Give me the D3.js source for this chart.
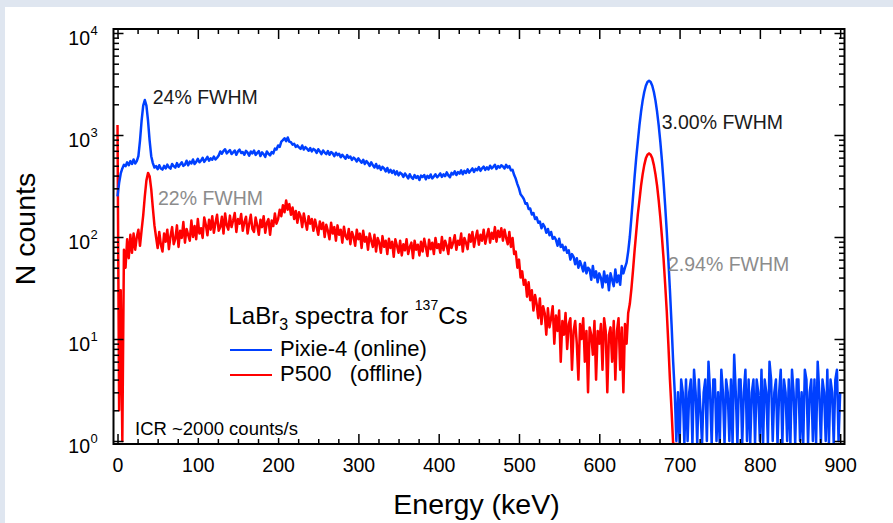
<!DOCTYPE html>
<html>
<head>
<meta charset="utf-8">
<script src="https://cdn.jsdelivr.net/npm/d3@7"></script>
<style>
  html, body { margin: 0; padding: 0; background: #dfe6f0; }
  svg { display: block; }
  text { font-family: "Liberation Sans", Arial, Helvetica, sans-serif; }
</style>
</head>
<body>
<svg id="chart" width="893" height="523"></svg>
<script>
// ---------- data ----------
// energy grid: one value every 2 keV, 0 .. 900 keV
const energyStep = 2;
const energyMax = 900;

// Pixie-4 (online) counts per 2 keV bin, starting at 0 keV
const pixieCounts = [
  250, 340, 420, 470, 510, 495, 540, 505, 555, 520,
  575, 525, 555, 620, 880, 1380, 1940, 2200, 1940, 1380,
  880, 620, 530, 480, 495, 462, 505, 470, 458, 498,
  470, 512, 482, 468, 520, 495, 478, 530, 488, 515,
  540, 498, 512, 560, 505, 548, 525, 575, 520, 545,
  585, 540, 560, 598, 545, 575, 610, 560, 590, 572,
  615, 575, 598, 630, 690, 655, 700, 725, 660, 688,
  712, 650, 675, 705, 640, 690, 718, 665, 680, 640,
  700, 672, 628, 690, 660, 705, 638, 668, 695, 622,
  675, 648, 610, 690, 655, 632, 680, 660, 735, 720,
  790, 765, 860, 890, 930, 870, 945, 860, 850, 805,
  820, 765, 790, 755, 730, 790, 720, 760, 735, 700,
  745, 690, 730, 712, 668, 725, 690, 650, 705, 672,
  650, 695, 640, 680, 662, 620, 670, 635, 655, 605,
  640, 612, 585, 635, 598, 615, 570, 600, 582, 550,
  590, 560, 535, 572, 520, 555, 530, 498, 540, 505,
  480, 520, 472, 498, 455, 488, 470, 440, 475, 430,
  455, 425, 448, 410, 440, 402, 428, 415, 388, 420,
  398, 375, 412, 385, 372, 405, 380, 395, 362, 400,
  388, 405, 368, 398, 380, 410, 375, 392, 412, 385,
  400, 420, 388, 412, 395, 430, 402, 385, 425, 410,
  440, 405, 432, 418, 450, 412, 445, 425, 460, 428,
  448, 470, 435, 465, 452, 485, 445, 472, 490, 455,
  482, 460, 500, 470, 488, 510, 465, 495, 478, 505,
  492, 470, 510, 480, 495, 450, 455, 405, 372, 330,
  300, 262, 250, 236, 212, 214, 188, 190, 166, 172,
  150, 156, 138, 142, 122, 134, 126, 110, 120, 104,
  112, 96, 100, 94, 82, 96, 80, 84, 74, 80,
  70, 74, 60, 68, 64, 54, 62, 50, 58, 52,
  46, 56, 44, 50, 48, 38, 52, 40, 46, 36,
  44, 40, 32, 46, 36, 42, 30, 44, 38, 33,
  48, 36, 42, 34, 52, 44, 50, 56, 72, 100,
  155, 246, 392, 596, 862, 1241, 1689, 2173, 2643, 3040,
  3305, 3400, 3305, 3040, 2643, 2173, 1689, 1241, 862, 566,
  352, 206, 115, 60, 30, 14, 6, 3, 1, 3,
  0, 4, 3, 0, 4, 1, 3, 4, 0, 5,
  3, 0, 4, 2, 0, 3, 4, 1, 6, 3,
  0, 4, 4, 1, 3, 0, 5, 3, 0, 4,
  3, 1, 4, 0, 7, 3, 0, 4, 4, 0,
  3, 5, 1, 4, 0, 3, 4, 0, 4, 3,
  1, 5, 0, 4, 3, 0, 6, 4, 1, 3,
  4, 0, 3, 5, 0, 4, 3, 1, 4, 0,
  5, 3, 0, 4, 4, 1, 3, 0, 5, 4,
  0, 3, 4, 1, 4, 0, 6, 3, 0, 4,
  3, 1, 5, 0, 4, 3, 0, 4, 5, 1,
  3
];

// P500 (offline) counts per 2 keV bin, starting at 0 keV (zero above ~692 keV)
const p500Counts = [
  1250, 2, 30, 1, 75, 50, 95, 62, 105, 70,
  108, 75, 100, 118, 82, 117, 163, 251, 359, 425,
  394, 295, 193, 130, 100, 78, 112, 84, 72, 108,
  90, 118, 76, 102, 125, 85, 96, 130, 80, 115,
  98, 140, 88, 120, 105, 92, 145, 100, 128, 95,
  150, 108, 122, 98, 155, 132, 104, 148, 118, 160,
  110, 138, 165, 115, 125, 158, 108, 170, 130, 118,
  162, 125, 145, 172, 112, 150, 135, 168, 115, 140,
  158, 108, 135, 165, 120, 112, 155, 130, 105, 148,
  125, 160, 110, 138, 150, 105, 145, 128, 170, 135,
  150, 185, 160, 205, 175, 228, 185, 210, 165, 195,
  150, 180, 138, 175, 160, 125, 170, 140, 118, 160,
  135, 150, 115, 148, 125, 105, 142, 120, 138, 100,
  132, 115, 95, 138, 108, 125, 92, 130, 105, 118,
  88, 126, 102, 95, 120, 85, 112, 100, 82, 118,
  95, 108, 78, 115, 90, 100, 75, 108, 92, 80,
  105, 72, 98, 88, 70, 102, 80, 92, 68, 96,
  78, 90, 64, 95, 82, 70, 92, 66, 85, 74,
  95, 68, 80, 88, 62, 92, 75, 84, 66, 90,
  72, 96, 80, 65, 94, 76, 88, 68, 98, 78,
  85, 70, 100, 74, 92, 82, 68, 98, 78, 88,
  104, 75, 92, 84, 108, 72, 98, 88, 76, 106,
  90, 112, 80, 98, 115, 84, 105, 92, 118, 86,
  102, 120, 88, 110, 96, 125, 90, 115, 100, 122,
  92, 118, 98, 85, 112, 80, 98, 68, 72, 50,
  60, 40, 46, 34, 38, 26, 36, 24, 30, 19,
  27, 22, 16, 25, 14, 21, 18, 11, 20, 13,
  16, 21, 9, 17, 12, 19, 6, 15, 11, 18,
  8, 14, 16, 5, 12, 15, 9, 4, 14, 10,
  16, 6, 12, 3, 13, 11, 7, 15, 4, 12,
  9, 14, 5, 16, 12, 3, 11, 13, 6, 15,
  4, 12, 16, 5, 13, 3, 14, 9, 18, 22,
  31, 47, 74, 111, 167, 229, 318, 411, 507, 590,
  641, 660, 641, 590, 507, 411, 318, 229, 157, 101,
  62, 35, 19, 9, 4, 2, 0, 0, 0, 0
];

const xMajorTicks = [0, 100, 200, 300, 400, 500, 600, 700, 800, 900];
const xMinorTicks = d3.range(0, 901, 25).filter(v => v % 100 !== 0);
const yDecades = [0, 1, 2, 3, 4];
const seriesNames = ["Pixie-4 (online)", "P500   (offline)"];
const peakNotes = [
  { text: "24% FWHM", series: 0 },
  { text: "22% FWHM", series: 1 },
  { text: "3.00% FWHM", series: 0 },
  { text: "2.94% FWHM", series: 1 }
];

// ---------- layout ----------
const W = 893, H = 523;
const frame = { left: 113.5, right: 844.5, top: 29, bottom: 444 };
const colors = ["#0040ff", "#ff0000"];
const noteColors = ["#1a1a1a", "#8c8c8c"];

const svg = d3.select("#chart");
svg.append("rect").attr("x", 5).attr("y", 7).attr("width", W - 5).attr("height", H - 7).attr("fill", "#ffffff");

const x = d3.scaleLinear().domain([-5.0, 905.4]).range([frame.left, frame.right]);
const yMin = Math.pow(10, -0.0294), yMax = Math.pow(10, 4.0392);
const y = d3.scaleLog().domain([yMin, yMax]).range([frame.bottom, frame.top]);

const clip = svg.append("defs").append("clipPath").attr("id", "plotclip");
clip.append("rect").attr("x", frame.left).attr("y", frame.top)
  .attr("width", frame.right - frame.left).attr("height", frame.bottom - frame.top);

// ---------- data lines ----------
const line = d3.line()
  .x((d, i) => x(i * energyStep))
  .y(d => y(Math.max(d, yMin)));

const plot = svg.append("g").attr("clip-path", "url(#plotclip)");
plot.append("path").datum(p500Counts)
  .attr("d", line).attr("fill", "none").attr("stroke", colors[1])
  .attr("stroke-width", 2.5).attr("stroke-linejoin", "round");
plot.append("path").datum(pixieCounts)
  .attr("d", line).attr("fill", "none").attr("stroke", colors[0])
  .attr("stroke-width", 2.5).attr("stroke-linejoin", "round");

// ---------- axes ----------
const tickFont = 19.5;
const axisStyle = g => {
  g.select(".domain").remove();
  g.selectAll(".tick line").attr("stroke", "#000").attr("stroke-width", 1.5);
};

// bottom
svg.append("g").attr("transform", `translate(0,${frame.bottom})`)
  .call(d3.axisBottom(x).tickValues(xMajorTicks).tickSize(-10).tickPadding(0))
  .call(axisStyle)
  .call(g => g.selectAll(".tick text")
    .attr("y", 28).attr("dy", null)
    .attr("font-size", tickFont).attr("font-family", "Liberation Sans, Arial, sans-serif")
    .attr("fill", "#000"));
svg.append("g").attr("transform", `translate(0,${frame.bottom})`)
  .call(d3.axisBottom(x).tickValues(xMinorTicks).tickSize(-5).tickFormat(""))
  .call(axisStyle);
// top
svg.append("g").attr("transform", `translate(0,${frame.top})`)
  .call(d3.axisTop(x).tickValues(xMajorTicks).tickSize(-10).tickFormat(""))
  .call(axisStyle);
svg.append("g").attr("transform", `translate(0,${frame.top})`)
  .call(d3.axisTop(x).tickValues(xMinorTicks).tickSize(-5).tickFormat(""))
  .call(axisStyle);

// y ticks
const yMajor = yDecades.map(p => Math.pow(10, p));
const yMinor = [];
yDecades.slice(0, -1).forEach(p => { for (let k = 2; k <= 9; k++) yMinor.push(k * Math.pow(10, p)); });

[["left", frame.left, d3.axisLeft], ["right", frame.right, d3.axisRight]].forEach(([side, px, ax]) => {
  svg.append("g").attr("transform", `translate(${px},0)`)
    .call(ax(y).tickValues(yMajor).tickSize(-10).tickFormat(""))
    .call(axisStyle);
  svg.append("g").attr("transform", `translate(${px},0)`)
    .call(ax(y).tickValues(yMinor).tickSize(-5.5).tickFormat(""))
    .call(axisStyle);
});

// y tick labels with superscripts
const yLab = svg.append("g");
yDecades.forEach(p => {
  const ty = y(Math.pow(10, p));
  yLab.append("text").attr("x", 90).attr("y", ty + 12).attr("text-anchor", "end")
    .attr("font-size", tickFont).attr("fill", "#000").text("10");
  yLab.append("text").attr("x", 90.5).attr("y", ty + 2).attr("text-anchor", "start")
    .attr("font-size", 13).attr("fill", "#000").text(p);
});

// frame
svg.append("rect").attr("x", frame.left).attr("y", frame.top)
  .attr("width", frame.right - frame.left).attr("height", frame.bottom - frame.top)
  .attr("fill", "none").attr("stroke", "#000").attr("stroke-width", 2);

// ---------- titles ----------
svg.append("text").attr("x", 476.5).attr("y", 514).attr("text-anchor", "middle")
  .attr("font-size", 28.5).attr("fill", "#000").text("Energy (keV)");
svg.append("text").attr("transform", "translate(35,229) rotate(-90)").attr("text-anchor", "middle")
  .attr("font-size", 28.5).attr("fill", "#000").text("N counts");

// ---------- annotations ----------
const notePos = [[152.7, 104], [158, 205], [661.7, 129], [668, 271]];
peakNotes.forEach((n, i) => {
  svg.append("text").attr("x", notePos[i][0]).attr("y", notePos[i][1])
    .attr("font-size", 19.5).attr("fill", noteColors[n.series]).text(n.text);
});

// ICR note with white background
svg.append("rect").attr("x", 131).attr("y", 418).attr("width", 180).attr("height", 20).attr("fill", "#fff");
svg.append("text").attr("x", 135).attr("y", 435).attr("font-size", 18.5).attr("fill", "#000")
  .text("ICR ~2000 counts/s");

// ---------- legend ----------
const lt = svg.append("text").attr("x", 228.5).attr("y", 324).attr("font-size", 24).attr("fill", "#000");
lt.append("tspan").text("LaBr");
lt.append("tspan").attr("font-size", 16).attr("dy", 6).text("3");
lt.append("tspan").attr("dy", -6).text(" spectra for ");
lt.append("tspan").attr("font-size", 14).attr("dy", -14).text("137");
lt.append("tspan").attr("dy", 14).text("Cs");

const legY = [350, 375];
seriesNames.forEach((name, i) => {
  svg.append("line").attr("x1", 230).attr("x2", 272).attr("y1", legY[i]).attr("y2", legY[i])
    .attr("stroke", colors[i]).attr("stroke-width", 2);
  svg.append("text").attr("x", 280).attr("y", legY[i] + 6.3).attr("font-size", 22)
    .attr("fill", "#000").style("white-space", "pre").text(name);
});
</script>
</body>
</html>
